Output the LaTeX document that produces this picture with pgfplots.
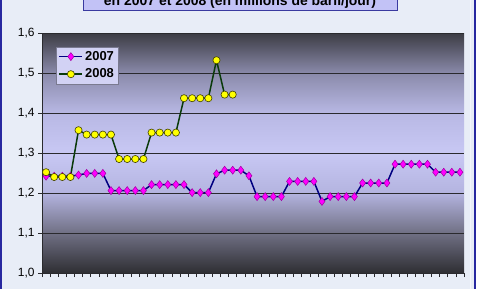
\documentclass[border=0pt]{standalone}
\usepackage{pgfplots}
\pgfplotsset{compat=1.18}
\usepackage{fontspec}
\setmainfont{Liberation Sans}
\setsansfont{Liberation Sans}
\definecolor{bgsnow}{HTML}{E8EDF7}
\definecolor{frameblue}{HTML}{2828A0}
\definecolor{framelight}{HTML}{F4F6FC}
\definecolor{titlefill}{HTML}{C2C2F6}
\definecolor{titleborder}{HTML}{3A3AA0}
\definecolor{c0}{HTML}{2E2E33}
\definecolor{c1}{HTML}{707084}
\definecolor{c2}{HTML}{B4B4E0}
\definecolor{c3}{HTML}{C8C8F4}
\definecolor{c4}{HTML}{B8B8E4}
\definecolor{c5}{HTML}{8A8AAA}
\definecolor{c6}{HTML}{3C3C44}
\definecolor{gridc}{HTML}{2A2A2E}
\definecolor{legfill}{HTML}{D2D2F4}
\definecolor{leggray}{HTML}{7A7A90}
\definecolor{navyline}{HTML}{000080}
\definecolor{magmark}{HTML}{FF00FF}
\definecolor{magedge}{HTML}{A000A0}
\definecolor{greenline}{HTML}{0A3A0A}
\definecolor{yelmark}{HTML}{FFFF00}
\definecolor{yeledge}{HTML}{404000}
\pgfdeclareverticalshading{plotbg}{100bp}{color(0bp)=(c0); color(25bp)=(c0); color(33.33bp)=(c1); color(41.67bp)=(c2); color(50bp)=(c3); color(58.33bp)=(c4); color(66.67bp)=(c5); color(75bp)=(c6); color(100bp)=(c6)}
\pgfplotstableread{
x y
0.5 1.242
1.5 1.242
2.5 1.242
3.5 1.242
4.5 1.245
5.5 1.249
6.5 1.249
7.5 1.249
8.5 1.206
9.5 1.206
10.5 1.206
11.5 1.206
12.5 1.206
13.5 1.221
14.5 1.221
15.5 1.221
16.5 1.221
17.5 1.221
18.5 1.201
19.5 1.201
20.5 1.201
21.5 1.248
22.5 1.257
23.5 1.257
24.5 1.257
25.5 1.243
26.5 1.191
27.5 1.191
28.5 1.191
29.5 1.191
30.5 1.229
31.5 1.229
32.5 1.229
33.5 1.229
34.5 1.179
35.5 1.191
36.5 1.191
37.5 1.191
38.5 1.191
39.5 1.225
40.5 1.225
41.5 1.225
42.5 1.225
43.5 1.272
44.5 1.272
45.5 1.272
46.5 1.272
47.5 1.272
48.5 1.252
49.5 1.252
50.5 1.252
51.5 1.252
}\dataA
\pgfplotstableread{
x y
0.5 1.252
1.5 1.240
2.5 1.240
3.5 1.240
4.5 1.357
5.5 1.346
6.5 1.346
7.5 1.346
8.5 1.346
9.5 1.285
10.5 1.285
11.5 1.285
12.5 1.285
13.5 1.351
14.5 1.351
15.5 1.351
16.5 1.351
17.5 1.437
18.5 1.437
19.5 1.437
20.5 1.437
21.5 1.532
22.5 1.446
23.5 1.446
}\dataB
\begin{document}
\begin{tikzpicture}[x=1bp,y=1bp]
\path[use as bounding box] (0,0) rectangle (480,288);
\fill[white] (0,0) rectangle (480,288);
\fill[bgsnow] (0,-2) rectangle (475,290);
\draw[framelight, line width=1bp] (470.5,-2) -- (470.5,290);
\draw[frameblue, line width=2bp] (1,-2) -- (1,290);
\draw[frameblue, line width=2bp] (475,-2) -- (475,290);
\draw[titleborder, fill=titlefill, line width=1bp] (83,277.5) rectangle (397,300);
\node[anchor=base, inner sep=0pt, font=\bfseries\fontsize{14}{16}\selectfont] at (240,282.5) {en 2007 et 2008 (en millions de baril/jour)};
\begin{axis}[
  at={(42bp,15bp)}, anchor=south west,
  width=422bp, height=240bp, scale only axis,
  xmin=0, xmax=52, ymin=1, ymax=1.6,
  axis lines*=left,
  axis line style={gridc, line width=0.8bp},
  axis background/.style={shading=plotbg},
  xtick={0,1,...,52}, xticklabels={},
  ytick={1.0,1.1,1.2,1.3,1.4,1.5,1.6},
  tick align=outside,
  major tick length=4bp,
  tick style={gridc, line width=0.6bp},
  ymajorgrids,
  grid style={gridc, line width=0.8bp},
  /pgf/number format/assume math mode=true,
  yticklabel style={/pgf/number format/.cd, fixed, fixed zerofill, precision=1, use comma},
  ticklabel style={font=\fontsize{12}{14}\selectfont, text=black},
  legend style={at={(0.033,0.943)}, anchor=north west, fill=legfill, draw=leggray,
    font=\bfseries\fontsize{13}{15}\selectfont, row sep=3bp, inner sep=2.5bp},
  legend cell align=left,
  legend image code/.code={\draw[mark repeat=2, mark phase=2, #1] plot coordinates {(0bp,0bp) (11.5bp,0bp) (23bp,0bp)};},
]
\addplot[navyline, line width=1.5bp, mark=diamond*, mark size=4bp,
  mark options={fill=magmark, draw=magedge, line width=0.5bp}] table[x=x,y=y] {\dataA};
\addlegendentry{2007}
\addplot[greenline, line width=1.5bp, mark=*, mark size=3.6bp,
  mark options={fill=yelmark, draw=yeledge, line width=0.6bp}] table[x=x,y=y] {\dataB};
\addlegendentry{2008}
\end{axis}
\end{tikzpicture}
\end{document}
